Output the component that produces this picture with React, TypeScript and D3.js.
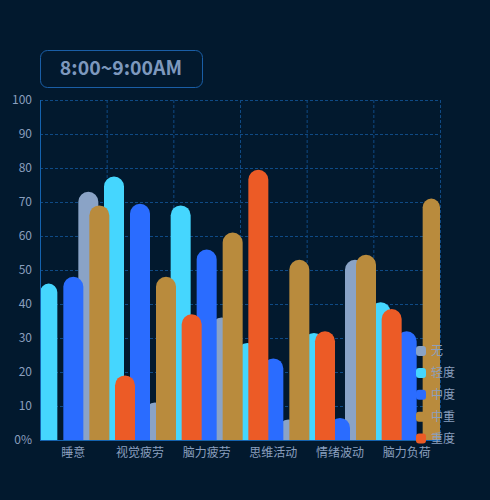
import * as d3 from 'd3'
import React, { useEffect, useRef } from 'react'

// categories on the x axis
const categories = ['睡意', '视觉疲劳', '脑力疲劳', '思维活动', '情绪波动', '脑力负荷']
const yTicks = [0, 10, 20, 30, 40, 50, 60, 70, 80, 90, 100]

// series values (percent), one per category
const seriesNames = ['无', '轻度', '中度', '中重', '重度']
const noneValues = [73, 11, 36, 6, 53, 0]
const lightValues = [46, 77.5, 69, 28.5, 31.5, 40.5]
const moderateValues = [48, 69.5, 56, 24, 6.5, 32]
const heavyValues = [69, 48, 61, 53, 54.5, 71]
const severeValues = [0, 19, 37, 79.5, 32, 38.5]

const seriesValues = [noneValues, lightValues, moderateValues, heavyValues, severeValues]
const colors = ['#8aa3c6', '#45d6fe', '#2a6cff', '#b98b3d', '#ec5b26']
// horizontal offset of each series' bar centre from the category centre
const offsets = [15, -26, 0, 26, -15]

const App = () => {
  const chartRef = useRef(null)

  useEffect(() => {
    const width = 490
    const height = 500
    const left = 40
    const right = 440
    const top = 100
    const bottom = 440
    const barWidth = 20
    const labelColor = '#8a9fbe'
    const font = '"Noto Sans CJK SC", "Noto Sans", sans-serif'

    const svg = d3.select(chartRef.current).attr('width', width).attr('height', height)
    svg.selectAll('*').remove()

    svg.append('rect').attr('width', width).attr('height', height).attr('fill', '#02192e')

    // title box
    svg
      .append('rect')
      .attr('x', 40.5)
      .attr('y', 50.5)
      .attr('width', 162)
      .attr('height', 37)
      .attr('rx', 7)
      .attr('fill', 'none')
      .attr('stroke', '#1a5ea6')
    svg
      .append('text')
      .attr('x', 121)
      .attr('y', 75)
      .attr('text-anchor', 'middle')
      .attr('fill', '#7d98bd')
      .attr('font-family', font)
      .attr('font-weight', 'bold')
      .attr('font-size', 19.5)
      .text('8:00~9:00AM')

    const x = d3.scaleBand().domain(categories).range([left, right]).padding(0)
    const y = d3.scaleLinear().domain([0, 100]).range([bottom, top])

    // grid
    const grid = svg.append('g')
    grid
      .selectAll('line.h')
      .data(yTicks.filter((t) => t > 0))
      .enter()
      .append('line')
      .attr('x1', left)
      .attr('x2', right)
      .attr('y1', (d) => y(d) + 0.5)
      .attr('y2', (d) => y(d) + 0.5)
      .attr('stroke', '#0f4a85')
      .attr('stroke-dasharray', '3,2')
    grid
      .selectAll('line.v')
      .data(categories.map((c) => (x(c) as number) + x.bandwidth()))
      .enter()
      .append('line')
      .attr('x1', (d) => d + 0.5)
      .attr('x2', (d) => d + 0.5)
      .attr('y1', top)
      .attr('y2', bottom)
      .attr('stroke', '#0f4a85')
      .attr('stroke-dasharray', '3,2')

    // bars, drawn series by series
    seriesValues.forEach((values, si) => {
      svg
        .append('g')
        .selectAll('path')
        .data(values.map((v, i) => ({ v, c: categories[i] })))
        .enter()
        .filter((d) => d.v > 0)
        .append('path')
        .attr('fill', colors[si])
        .attr('d', (d) => {
          const cx = (x(d.c) as number) + x.bandwidth() / 2 + offsets[si]
          const x0 = Math.max(left, cx - barWidth / 2)
          const x1 = Math.min(right, cx + barWidth / 2)
          const yt = y(d.v)
          const r = Math.min((x1 - x0) / 2, bottom - yt)
          return `M${x0},${bottom}L${x0},${yt + r}A${r},${r} 0 0 1 ${x1},${yt + r}L${x1},${bottom}Z`
        })
    })

    // axes
    svg
      .append('line')
      .attr('x1', left + 0.5)
      .attr('x2', left + 0.5)
      .attr('y1', top)
      .attr('y2', bottom)
      .attr('stroke', '#1462ae')
    svg
      .append('line')
      .attr('x1', left)
      .attr('x2', right)
      .attr('y1', bottom + 0.5)
      .attr('y2', bottom + 0.5)
      .attr('stroke', '#1462ae')

    svg
      .append('g')
      .selectAll('text')
      .data(yTicks)
      .enter()
      .append('text')
      .attr('x', 32)
      .attr('y', (d) => y(d))
      .attr('dy', '0.35em')
      .attr('text-anchor', 'end')
      .attr('fill', labelColor)
      .attr('font-family', font)
      .attr('font-size', 12)
      .text((d) => (d === 0 ? '0%' : String(d)))

    svg
      .append('g')
      .selectAll('text')
      .data(categories)
      .enter()
      .append('text')
      .attr('x', (d) => (x(d) as number) + x.bandwidth() / 2)
      .attr('y', 457)
      .attr('text-anchor', 'middle')
      .attr('fill', labelColor)
      .attr('font-family', font)
      .attr('font-size', 12)
      .text((d) => d)

    // legend
    const legend = svg
      .append('g')
      .selectAll('g')
      .data(seriesNames)
      .enter()
      .append('g')
      .attr('transform', (d, i) => `translate(416, ${351 + i * 21.9})`)
    legend
      .append('rect')
      .attr('x', 0)
      .attr('y', -5)
      .attr('width', 10)
      .attr('height', 10)
      .attr('rx', 3)
      .attr('fill', (d, i) => colors[i])
    legend
      .append('text')
      .attr('x', 15)
      .attr('dy', '0.35em')
      .attr('fill', labelColor)
      .attr('font-family', font)
      .attr('font-size', 12)
      .text((d) => d)
  }, [])

  return (
    <div style={{ position: 'fixed', left: 0, top: 0, width: 490, height: 500, background: '#02192e' }}>
      <svg ref={chartRef} style={{ display: 'block' }}></svg>
    </div>
  )
}

export default App
